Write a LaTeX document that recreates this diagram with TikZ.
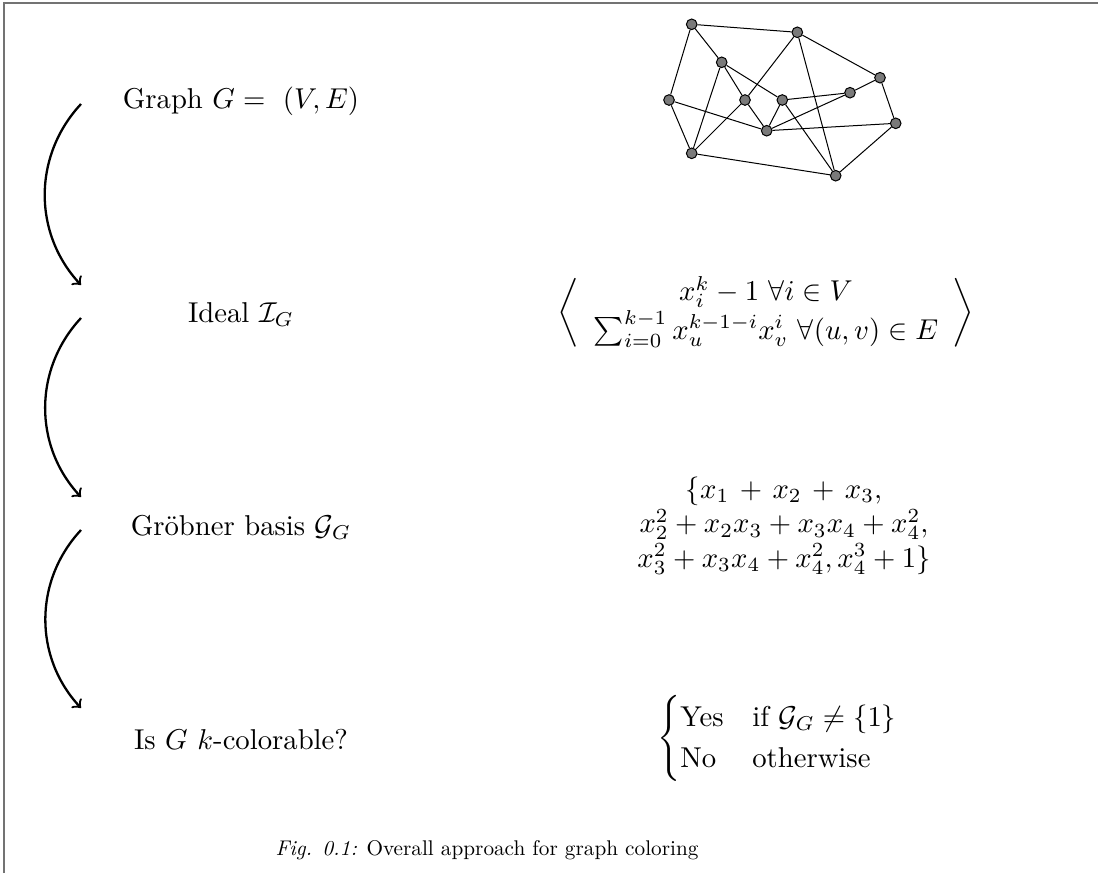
\documentclass[tikz,border=0pt]{standalone}
\usepackage{amsmath}
\usepackage{graphicx}
\begin{document}
\begin{tikzpicture}[x=0.34843pt,y=-0.34843pt,
  vtx/.style={circle,draw=black,fill=black!52,inner sep=0pt,minimum size=3.7pt,line width=0.35pt},
  edge/.style={line width=0.35pt},
  lbl/.style={anchor=base,inner sep=0pt},
  flow/.style={->,thick}]
\useasboundingbox (0,0) rectangle (1098,873);
\draw[black!55,line width=0.5pt] (4,873) -- (4,3) -- (1098,3);

% left column
\node[lbl] (l1) at (241,108) {Graph $G =\ (V,E)$};
\node[lbl] (l2) at (241,322) {Ideal $\mathcal{I}_G$};
\node[lbl] (l3) at (241,535) {Gr\"obner basis $\mathcal{G}_G$};
\node[lbl] (l4) at (241,749) {Is $G$ $k$-colorable?};

% arrows
\coordinate (a1s) at (81,104); \coordinate (a1e) at (81,285);
\coordinate (a2s) at (81,318); \coordinate (a2e) at (81,497);
\coordinate (a3s) at (81,530); \coordinate (a3e) at (81,708);
\draw[flow] (a1s) to[bend right=43] (a1e);
\draw[flow] (a2s) to[bend right=43] (a2e);
\draw[flow] (a3s) to[bend right=43] (a3e);

% graph
\node[vtx] (v1) at (691.7,24.3) {};
\node[vtx] (v2) at (797.3,32.3) {};
\node[vtx] (v3) at (721.7,62.3) {};
\node[vtx] (v4) at (880,77.7) {};
\node[vtx] (v5) at (850,92.7) {};
\node[vtx] (v6) at (669,100) {};
\node[vtx] (v7) at (745,100) {};
\node[vtx] (v8) at (782.3,100) {};
\node[vtx] (v9) at (766.7,130.7) {};
\node[vtx] (v10) at (895.7,123.3) {};
\node[vtx] (v11) at (691.7,153.3) {};
\node[vtx] (v12) at (835.7,175.7) {};
\foreach \a/\b in {v1/v2,v1/v3,v1/v6,v2/v7,v2/v12,v2/v4,v3/v7,v3/v8,v3/v11,
  v4/v5,v4/v10,v5/v8,v5/v9,v6/v11,v6/v9,v7/v9,v7/v11,v8/v9,v8/v12,v9/v10,v11/v12,v12/v10}
  \draw[edge] (\a) -- (\b);

% right column
\node[lbl] (r2) at (766,320) {$\left\langle\begin{array}{c}
  x_i^k-1\ \forall i\in V\\
  \sum_{i=0}^{k-1} x_u^{k-1-i}x_v^i\ \forall(u,v)\in E
  \end{array}\right\rangle$};
\node[lbl] (r3) at (784,533) {$\begin{array}{c}
  \{x_1\mskip2.5mu+\mskip2.5mu x_2\mskip2.5mu+\mskip2.5mu x_3,\\
  x_2^2+x_2x_3+x_3x_4+x_4^2,\\
  x_3^2+x_3x_4+x_4^2, x_4^3+1\}
  \end{array}$};
\node[lbl] (r4) at (778.5,746) {$\begin{cases}
  \text{Yes} & \text{if } \mathcal{G}_G\neq\{1\}\\
  \text{No} & \text{otherwise}
  \end{cases}$};

% caption
\node[lbl] (cap) at (487,855)
  {\scalebox{0.74}{\textit{Fig. 0.1:} Overall approach for graph coloring}};
\end{tikzpicture}
\end{document}
